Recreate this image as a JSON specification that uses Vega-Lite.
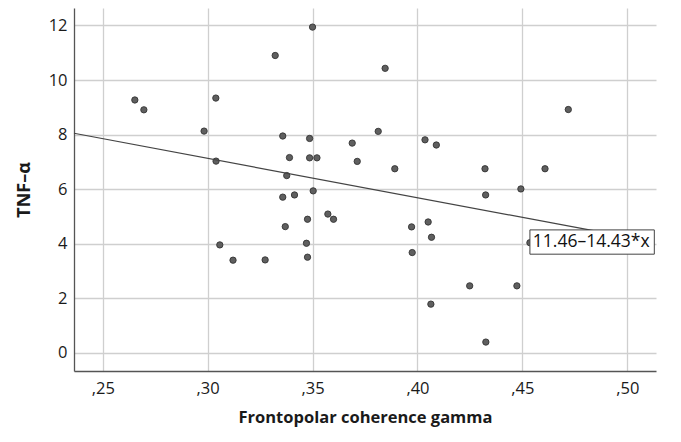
{
  "$schema": "https://vega.github.io/schema/vega-lite/v6.json",
  "width": 582,
  "height": 363,
  "autosize": "none",
  "padding": {"left": 74, "top": 8, "right": 25, "bottom": 71},
  "background": "white",
  "config": {
    "view": {"stroke": null},
    "font": "Open Sans",
    "axis": {
      "gridColor": "#cfcfcf",
      "gridWidth": 1.3,
      "domainColor": "#555555",
      "domainWidth": 1.3,
      "ticks": false,
      "labelFont": "Open Sans",
      "labelFontSize": 16.5,
      "labelColor": "#1a1a1a",
      "titleFont": "Open Sans",
      "titleFontSize": 16.5,
      "titleFontWeight": "bold",
      "titleColor": "#1a1a1a"
    }
  },
  "datasets": {
    "points": [
      {"gamma": 0.2653, "tnf": 9.27},
      {"gamma": 0.2696, "tnf": 8.91},
      {"gamma": 0.2983, "tnf": 8.13},
      {"gamma": 0.3039, "tnf": 9.34},
      {"gamma": 0.3040, "tnf": 7.03},
      {"gamma": 0.3058, "tnf": 3.96},
      {"gamma": 0.3121, "tnf": 3.40},
      {"gamma": 0.3274, "tnf": 3.41},
      {"gamma": 0.3322, "tnf": 10.90},
      {"gamma": 0.3358, "tnf": 7.95},
      {"gamma": 0.3358, "tnf": 5.71},
      {"gamma": 0.3370, "tnf": 4.63},
      {"gamma": 0.3377, "tnf": 6.50},
      {"gamma": 0.3390, "tnf": 7.16},
      {"gamma": 0.3414, "tnf": 5.79},
      {"gamma": 0.3471, "tnf": 4.02},
      {"gamma": 0.3476, "tnf": 3.51},
      {"gamma": 0.3476, "tnf": 4.90},
      {"gamma": 0.3486, "tnf": 7.86},
      {"gamma": 0.3486, "tnf": 7.15},
      {"gamma": 0.3500, "tnf": 11.94},
      {"gamma": 0.3503, "tnf": 5.94},
      {"gamma": 0.3521, "tnf": 7.15},
      {"gamma": 0.3573, "tnf": 5.09},
      {"gamma": 0.3600, "tnf": 4.90},
      {"gamma": 0.3689, "tnf": 7.69},
      {"gamma": 0.3713, "tnf": 7.02},
      {"gamma": 0.3813, "tnf": 8.12},
      {"gamma": 0.3846, "tnf": 10.43},
      {"gamma": 0.3892, "tnf": 6.75},
      {"gamma": 0.3972, "tnf": 4.62},
      {"gamma": 0.3975, "tnf": 3.68},
      {"gamma": 0.4036, "tnf": 7.81},
      {"gamma": 0.4051, "tnf": 4.80},
      {"gamma": 0.4064, "tnf": 1.79},
      {"gamma": 0.4067, "tnf": 4.24},
      {"gamma": 0.4090, "tnf": 7.62},
      {"gamma": 0.4249, "tnf": 2.46},
      {"gamma": 0.4322, "tnf": 6.75},
      {"gamma": 0.4325, "tnf": 5.79},
      {"gamma": 0.4326, "tnf": 0.40},
      {"gamma": 0.4474, "tnf": 2.46},
      {"gamma": 0.4493, "tnf": 6.01},
      {"gamma": 0.4536, "tnf": 4.04},
      {"gamma": 0.4608, "tnf": 6.75},
      {"gamma": 0.4719, "tnf": 8.92}
    ],
    "fit": [
      {"gamma": 0.2363, "tnf": 8.05},
      {"gamma": 0.4838, "tnf": 4.48}
    ],
    "label": [
      {"x1": 0.4536, "x2": 0.5129, "y1": 3.62, "y2": 4.51, "tx": 0.4550, "ty": 4.07, "text": "11.46–14.43*x"}
    ]
  },
  "layer": [
    {
      "data": {"name": "points"},
      "mark": {"type": "point", "filled": true, "size": 40, "fill": "#5f5f5f", "stroke": "#333333", "strokeWidth": 0.9, "opacity": 1},
      "encoding": {
        "x": {
          "field": "gamma", "type": "quantitative",
          "scale": {"domain": [0.2363, 0.5137], "nice": false, "zero": false},
          "axis": {
            "values": [0.25, 0.30, 0.35, 0.40, 0.45, 0.50],
            "labelExpr": "replace(format(datum.value, '.2f'), '0.', ',')",
            "labelPadding": 9,
            "title": "Frontopolar coherence gamma",
            "titlePadding": 13
          }
        },
        "y": {
          "field": "tnf", "type": "quantitative",
          "scale": {"domain": [-0.66, 12.64], "nice": false, "zero": false},
          "axis": {
            "values": [0, 2, 4, 6, 8, 10, 12],
            "labelPadding": 7,
            "title": "TNF–α",
            "titleFontSize": 18,
            "titlePadding": 15
          }
        }
      }
    },
    {
      "data": {"name": "fit"},
      "mark": {"type": "line", "color": "#444444", "strokeWidth": 1.2},
      "encoding": {
        "x": {"field": "gamma", "type": "quantitative"},
        "y": {"field": "tnf", "type": "quantitative"}
      }
    },
    {
      "data": {"name": "label"},
      "mark": {"type": "rect", "fill": "white", "stroke": "#444444", "strokeWidth": 1},
      "encoding": {
        "x": {"field": "x1", "type": "quantitative"},
        "x2": {"field": "x2"},
        "y": {"field": "y1", "type": "quantitative"},
        "y2": {"field": "y2"}
      }
    },
    {
      "data": {"name": "label"},
      "mark": {"type": "text", "align": "left", "baseline": "middle", "fontSize": 17.5, "font": "Open Sans", "color": "#111111"},
      "encoding": {
        "x": {"field": "tx", "type": "quantitative"},
        "y": {"field": "ty", "type": "quantitative"},
        "text": {"field": "text"}
      }
    }
  ]
}
